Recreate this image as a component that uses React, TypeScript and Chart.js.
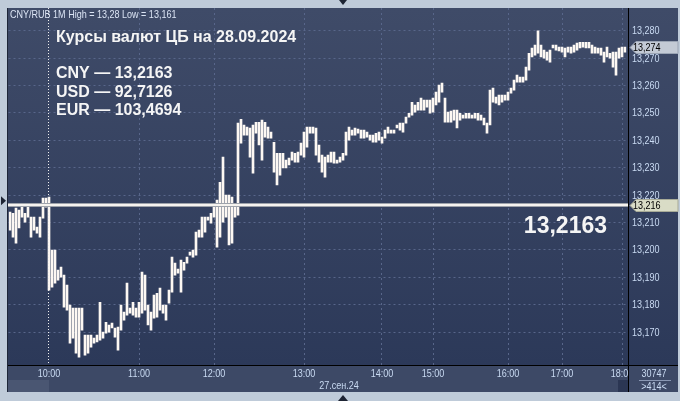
import React, { useEffect, useRef } from 'react';
import { Chart, registerables } from 'chart.js';

Chart.register(...registerables);

// ---- Data (2-minute aggregated high/low bars, CNY/RUB 27.09.2024) ----
const highs: number[] = [
  13.2138, 13.2134, 13.2153, 13.2145, 13.2156, 13.2134, 13.2164, 13.2120, 13.2120, 13.2083,
  13.2120, 13.2189, 13.2189, 13.2193, 13.1999, 13.1999, 13.1926, 13.1937, 13.1908, 13.1872,
  13.1799, 13.1788, 13.1788, 13.1788, 13.1788, 13.1689, 13.1689, 13.1689, 13.1678, 13.1689,
  13.1809, 13.1700, 13.1736, 13.1726, 13.1733, 13.1715, 13.1718, 13.1799, 13.1773, 13.1879,
  13.1788, 13.1809, 13.1788, 13.1809, 13.1919, 13.1908, 13.1799, 13.1773, 13.1835, 13.1842,
  13.1861, 13.1799, 13.1799, 13.1853, 13.1974, 13.1952, 13.1930, 13.1963, 13.1955, 13.1974,
  13.1992, 13.1999, 13.2065, 13.2072, 13.2120, 13.2120, 13.2120, 13.2134, 13.2164, 13.2182,
  13.2247, 13.2339, 13.2200, 13.2200, 13.2193, 13.2164, 13.2463, 13.2477, 13.2456, 13.2448,
  13.2445, 13.2456, 13.2466, 13.2466, 13.2474, 13.2466, 13.2448, 13.2430, 13.2393, 13.2353,
  13.2353, 13.2353, 13.2328, 13.2335, 13.2357, 13.2353, 13.2357, 13.2390, 13.2430, 13.2448,
  13.2448, 13.2448, 13.2445, 13.2383, 13.2346, 13.2339, 13.2346, 13.2357, 13.2357, 13.2328,
  13.2339, 13.2353, 13.2430, 13.2448, 13.2437, 13.2445, 13.2441, 13.2437, 13.2437, 13.2430,
  13.2419, 13.2419, 13.2426, 13.2430, 13.2412, 13.2437, 13.2448, 13.2437, 13.2437, 13.2456,
  13.2463, 13.2463, 13.2485, 13.2499, 13.2539, 13.2529, 13.2539, 13.2554, 13.2547, 13.2547,
  13.2547, 13.2554, 13.2576, 13.2602, 13.2609, 13.2554, 13.2503, 13.2507, 13.2510, 13.2510,
  13.2499, 13.2492, 13.2499, 13.2499, 13.2492, 13.2499, 13.2499, 13.2492, 13.2481, 13.2463,
  13.2583, 13.2591, 13.2558, 13.2565, 13.2565, 13.2565, 13.2576, 13.2591, 13.2620, 13.2638,
  13.2631, 13.2631, 13.2667, 13.2718, 13.2737, 13.2748, 13.2800, 13.2748, 13.2729, 13.2722,
  13.2729, 13.2748, 13.2748, 13.2740, 13.2740, 13.2737, 13.2740, 13.2740, 13.2748, 13.2755,
  13.2758, 13.2758, 13.2758, 13.2758, 13.2748, 13.2740, 13.2737, 13.2737, 13.2722, 13.2740,
  13.2718, 13.2722, 13.2722, 13.2737, 13.2740, 13.2740,
];

const lows: number[] = [
  13.2072, 13.2047, 13.2025, 13.2080, 13.2120, 13.2101, 13.2120, 13.2047, 13.2072, 13.2061,
  13.2047, 13.2116, 13.2156, 13.1853, 13.1864, 13.1879, 13.1890, 13.1901, 13.1791, 13.1780,
  13.1660, 13.1678, 13.1623, 13.1609, 13.1707, 13.1616, 13.1623, 13.1645, 13.1660, 13.1664,
  13.1671, 13.1678, 13.1696, 13.1700, 13.1715, 13.1682, 13.1634, 13.1707, 13.1744, 13.1762,
  13.1769, 13.1762, 13.1755, 13.1755, 13.1769, 13.1780, 13.1726, 13.1707, 13.1751, 13.1755,
  13.1780, 13.1769, 13.1744, 13.1806, 13.1846, 13.1908, 13.1915, 13.1846, 13.1926, 13.1952,
  13.1981, 13.1974, 13.1981, 13.2047, 13.2047, 13.2065, 13.2109, 13.2098, 13.2120, 13.2010,
  13.2047, 13.2101, 13.2120, 13.2018, 13.2025, 13.2120, 13.2127, 13.2390, 13.2419, 13.2419,
  13.2339, 13.2280, 13.2426, 13.2383, 13.2328, 13.2412, 13.2408, 13.2408, 13.2284, 13.2237,
  13.2273, 13.2299, 13.2299, 13.2310, 13.2328, 13.2320, 13.2320, 13.2346, 13.2339, 13.2375,
  13.2426, 13.2426, 13.2346, 13.2320, 13.2284, 13.2266, 13.2320, 13.2320, 13.2317, 13.2317,
  13.2320, 13.2328, 13.2346, 13.2401, 13.2419, 13.2419, 13.2426, 13.2408, 13.2408, 13.2412,
  13.2401, 13.2393, 13.2393, 13.2401, 13.2390, 13.2408, 13.2426, 13.2426, 13.2426, 13.2445,
  13.2437, 13.2430, 13.2463, 13.2485, 13.2492, 13.2503, 13.2510, 13.2510, 13.2510, 13.2521,
  13.2499, 13.2503, 13.2529, 13.2539, 13.2576, 13.2466, 13.2466, 13.2466, 13.2474, 13.2445,
  13.2474, 13.2481, 13.2481, 13.2481, 13.2481, 13.2481, 13.2474, 13.2474, 13.2456, 13.2426,
  13.2456, 13.2539, 13.2536, 13.2529, 13.2539, 13.2547, 13.2547, 13.2572, 13.2583, 13.2612,
  13.2612, 13.2612, 13.2620, 13.2656, 13.2704, 13.2711, 13.2718, 13.2704, 13.2700, 13.2693,
  13.2685, 13.2737, 13.2729, 13.2726, 13.2722, 13.2704, 13.2722, 13.2718, 13.2722, 13.2729,
  13.2737, 13.2740, 13.2737, 13.2737, 13.2718, 13.2718, 13.2718, 13.2711, 13.2685, 13.2704,
  13.2700, 13.2667, 13.2638, 13.2700, 13.2704, 13.2722,
];

const hourLabels = ['10:00', '11:00', '12:00', '13:00', '14:00', '15:00', '16:00', '17:00', '18:00'];
const hourIndex = [13, 43, 68, 98, 124, 141, 166, 184, 204];
const yTicks = [13.17, 13.18, 13.19, 13.2, 13.21, 13.22, 13.23, 13.24, 13.25, 13.26, 13.27, 13.28];
const yMin = 13.158;
const yMax = 13.2883;

const cbRate = 13.2163;
const lastPrice = 13.274;
const headerText = 'CNY/RUB 1M High = 13,28 Low = 13,161';
const titleText = 'Курсы валют ЦБ на 28.09.2024';
const rateLines = ['CNY — 13,2163', 'USD — 92,7126', 'EUR — 103,4694'];
const bigRateText = '13,2163';
const dateLabel = '27.сен.24';
const volumeText = '30747';
const barsCountText = '>414<';

const categories = highs.map((_, i) => {
  const k = hourIndex.indexOf(i);
  return k >= 0 ? hourLabels[k] : '';
});

// ---- Layout / styles ----
const PANEL_LEFT = 8;
const PANEL_RIGHT = 628; // price-axis separator
const PANEL_END = 678;
const FRAME = '#bfcbd9';
const BG_TOP = '#3f4b68';
const BG_BOTTOM = '#2c3959';
const AXIS_PANEL = '#3d4966';
const GRID = '#58668a';
const LABEL = '#c9daf2';
const BAR = '#fdf8f3';
const SANS = '"Liberation Sans", Arial, sans-serif';
const SMALL_FONT = `11px ${SANS}`;
const NARROW_SCALE = 0.82;

const fmt3 = (v: number) => v.toFixed(3).replace('.', ',');

// small condensed text (the terminal uses a narrow UI font)
function narrowText(ctx: CanvasRenderingContext2D, text: string, x: number, y: number, align: 'left' | 'center' | 'right', color: string) {
  ctx.save();
  ctx.translate(x, y);
  ctx.scale(NARROW_SCALE, 1);
  ctx.font = SMALL_FONT;
  ctx.fillStyle = color;
  ctx.textAlign = align;
  ctx.textBaseline = 'middle';
  ctx.fillText(text, 0, 0);
  ctx.restore();
}

const decorPlugin = {
  id: 'decor',
  beforeDraw(chart: any) {
    const { ctx, chartArea: ca, width, height } = chart;
    const xs = chart.scales.x;
    ctx.save();
    ctx.fillStyle = FRAME;
    ctx.fillRect(0, 0, width, height);
    const g = ctx.createLinearGradient(0, ca.top, 0, ca.bottom);
    g.addColorStop(0, BG_TOP);
    g.addColorStop(1, BG_BOTTOM);
    ctx.fillStyle = g;
    ctx.fillRect(PANEL_LEFT, ca.top, PANEL_END - PANEL_LEFT, ca.bottom - ca.top);
    ctx.fillStyle = AXIS_PANEL;
    ctx.fillRect(PANEL_LEFT, ca.bottom, PANEL_END - PANEL_LEFT, xs.bottom - ca.bottom);
    // scrollbar pieces
    const sbTop = ca.bottom + 15;
    ctx.fillStyle = '#4a5672';
    ctx.fillRect(PANEL_LEFT, sbTop, xs.getPixelForValue(hourIndex[0]) - PANEL_LEFT, xs.bottom - sbTop);
    ctx.fillStyle = '#2b3653';
    ctx.fillRect(PANEL_RIGHT - 10, sbTop, 10, xs.bottom - sbTop);
    ctx.restore();
  },
  afterDatasetsDraw(chart: any) {
    const { ctx, chartArea: ca } = chart;
    const xs = chart.scales.x;
    const ys = chart.scales.y;
    ctx.save();
    // session start dotted line
    const x0 = Math.floor(xs.getPixelForValue(hourIndex[0])) - 0.5;
    ctx.strokeStyle = '#f0f0f0';
    ctx.lineWidth = 1;
    ctx.setLineDash([1, 2]);
    ctx.beginPath();
    ctx.moveTo(x0, ca.top);
    ctx.lineTo(x0, ca.bottom);
    ctx.stroke();
    ctx.setLineDash([]);
    // CB rate line
    const yl = Math.round(ys.getPixelForValue(cbRate));
    ctx.fillStyle = '#9ea3ab';
    ctx.fillRect(PANEL_LEFT, yl - 2, PANEL_RIGHT - PANEL_LEFT, 4);
    ctx.fillStyle = '#f6f3ef';
    ctx.fillRect(PANEL_LEFT, yl - 1, PANEL_RIGHT - PANEL_LEFT, 2);
    ctx.restore();
  },
  afterDraw(chart: any) {
    const { ctx, chartArea: ca, height } = chart;
    const xs = chart.scales.x;
    const ys = chart.scales.y;
    ctx.save();

    // axis labels (drawn condensed)
    yTicks.forEach((v) => {
      narrowText(ctx, fmt3(v), PANEL_RIGHT + 4, ys.getPixelForValue(v) + 0.5, 'left', LABEL);
    });
    hourIndex.forEach((idx, k) => {
      narrowText(ctx, hourLabels[k], xs.getPixelForValue(idx), ca.bottom + 9, 'center', LABEL);
    });

    // bottom-right cell
    ctx.fillStyle = AXIS_PANEL;
    ctx.fillRect(PANEL_RIGHT, ca.bottom, PANEL_END - PANEL_RIGHT, xs.bottom - ca.bottom);
    // separators
    ctx.fillStyle = '#000000';
    ctx.fillRect(PANEL_RIGHT, ca.top, 1, xs.bottom - ca.top);
    ctx.fillRect(PANEL_LEFT, ca.bottom, PANEL_END - PANEL_LEFT, 1);
    ctx.fillStyle = '#1e2638';
    ctx.fillRect(PANEL_LEFT - 1, ca.top, 1, xs.bottom - ca.top);
    // cell texts
    const cx = (PANEL_RIGHT + PANEL_END) / 2 + 1;
    narrowText(ctx, volumeText, cx, ca.bottom + 9, 'center', LABEL);
    ctx.fillStyle = '#8a98b4';
    ctx.fillRect(PANEL_RIGHT + 11, ca.bottom + 15, 32, 1);
    narrowText(ctx, barsCountText, cx, ca.bottom + 22, 'center', LABEL);
    // date label
    narrowText(ctx, dateLabel, (PANEL_LEFT + PANEL_RIGHT) / 2 + 21, ca.bottom + 21, 'center', LABEL);

    // price tags
    const tag = (value: number, fill: string, stroke: string) => {
      const y = Math.round(ys.getPixelForValue(value)) + 0.5;
      const x = PANEL_RIGHT + 2;
      ctx.beginPath();
      ctx.moveTo(x, y);
      ctx.lineTo(x + 6, y - 6);
      ctx.lineTo(PANEL_END, y - 6);
      ctx.lineTo(PANEL_END, y + 6);
      ctx.lineTo(x + 6, y + 6);
      ctx.closePath();
      ctx.fillStyle = fill;
      ctx.fill();
      ctx.strokeStyle = stroke;
      ctx.lineWidth = 1;
      ctx.stroke();
      narrowText(ctx, fmt3(value), x + 3, y + 0.5, 'left', '#000000');
    };
    tag(lastPrice, '#c3cad5', '#9aa4b4');
    tag(cbRate, '#d9dcc6', '#a8ab98');

    // header text
    narrowText(ctx, headerText, PANEL_LEFT + 2, ca.top + 7, 'left', '#dbe4f4');

    // title + rates
    ctx.textAlign = 'left';
    ctx.textBaseline = 'middle';
    ctx.fillStyle = '#f5f5f5';
    ctx.font = `bold 16px ${SANS}`;
    ctx.fillText(titleText, PANEL_LEFT + 48, ca.top + 30);
    rateLines.forEach((t, k) => {
      ctx.fillText(t, PANEL_LEFT + 48, ca.top + 66 + k * 18.3);
    });

    // big rate near CB line
    const yl = ys.getPixelForValue(cbRate);
    ctx.font = `bold 23px ${SANS}`;
    ctx.textAlign = 'right';
    ctx.fillText(bigRateText, PANEL_RIGHT - 21, yl + 21);

    // frame markers
    ctx.fillStyle = '#1d2433';
    const mx = (PANEL_LEFT + PANEL_RIGHT) / 2 + 25;
    ctx.beginPath();
    ctx.moveTo(mx - 4, 0);
    ctx.lineTo(mx + 4, 0);
    ctx.lineTo(mx, 5);
    ctx.closePath();
    ctx.fill();
    ctx.beginPath();
    ctx.moveTo(mx - 5, height);
    ctx.lineTo(mx + 5, height);
    ctx.lineTo(mx, height - 6);
    ctx.closePath();
    ctx.fill();
    ctx.beginPath();
    ctx.moveTo(1, yl - 9);
    ctx.lineTo(6, yl - 4.5);
    ctx.lineTo(1, yl);
    ctx.closePath();
    ctx.fill();
    ctx.restore();
  },
};

export default function App() {
  const ref = useRef<HTMLCanvasElement | null>(null);

  useEffect(() => {
    if (!ref.current) return;
    const chart = new Chart(ref.current, {
      type: 'bar',
      data: {
        labels: categories,
        datasets: [
          {
            data: lows.map((l, i) => [l, highs[i]]) as any,
            backgroundColor: BAR,
            borderWidth: 0,
            borderSkipped: false,
            barThickness: 2,
            grouped: false,
          },
        ],
      },
      options: {
        responsive: false,
        animation: false,
        events: [],
        // chart area 8.5 .. 626.5 => exactly 3px per bar, pixel-aligned bars
        layout: { padding: { left: 8.5, top: 8, right: 2, bottom: 9 } },
        plugins: { legend: { display: false }, tooltip: { enabled: false } },
        scales: {
          x: {
            type: 'category',
            offset: true,
            grid: {
              offset: false,
              drawTicks: false,
              color: (c: any) => (c.index === 0 ? 'rgba(0,0,0,0)' : GRID),
            },
            border: { display: false, dash: [2, 3] },
            ticks: { display: false, autoSkip: false, maxRotation: 0, minRotation: 0 },
            afterBuildTicks: (scale: any) => {
              scale.ticks = hourIndex.map((i) => ({ value: i }));
            },
            afterFit: (scale: any) => {
              scale.height = 27;
            },
          },
          y: {
            type: 'linear',
            position: 'right',
            min: yMin,
            max: yMax,
            grid: { drawTicks: false, color: GRID },
            border: { display: false, dash: [2, 3] },
            ticks: { display: false },
            afterBuildTicks: (scale: any) => {
              scale.ticks = yTicks.map((v) => ({ value: v }));
            },
            afterFit: (scale: any) => {
              scale.width = 51.5;
            },
          },
        },
      },
      plugins: [decorPlugin],
    });
    return () => chart.destroy();
  }, []);

  return (
    <div style={{ position: 'fixed', left: 0, top: 0, width: 680, height: 401 }}>
      <canvas ref={ref} width={680} height={401} style={{ width: 680, height: 401, display: 'block' }} />
    </div>
  );
}
